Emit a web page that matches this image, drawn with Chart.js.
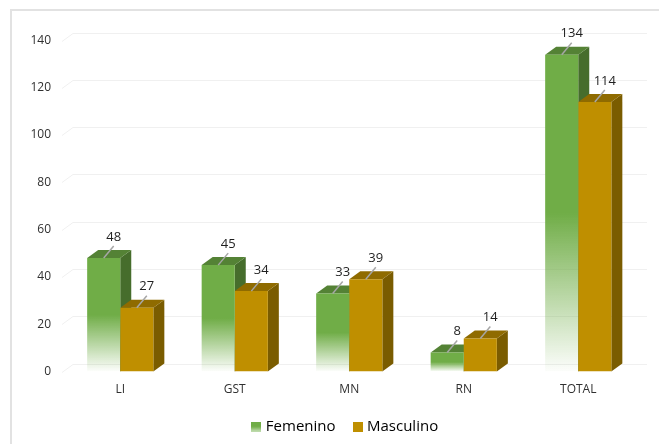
<!DOCTYPE html>
<html>
<head>
<meta charset="utf-8">
<style>
  html, body { margin: 0; padding: 0; background: #fff; }
  #wrap { position: absolute; left: 0; top: 0; width: 659px; height: 444px; overflow: hidden; }
  #frame { position: absolute; left: 10px; top: 9px; width: 660px; height: 450px; border: 2px solid #e2e2e2; }
  body { overflow: hidden; }
</style>
<script src="https://cdn.jsdelivr.net/npm/chart.js@4/dist/chart.umd.min.js"></script>
</head>
<body>
<div id="wrap">
  <div id="frame"></div>
  <canvas id="chart" width="659" height="444" style="position:absolute;left:0;top:0"></canvas>
</div>
<script>
var categories = ['LI', 'GST', 'MN', 'RN', 'TOTAL'];
var femenino = [48, 45, 33, 8, 134];
var masculino = [27, 34, 39, 14, 114];
var yTicks = [0, 20, 40, 60, 80, 100, 120, 140];

var fontName = '"Open Sans", sans-serif';
var depthX = 11, depthY = 8;

// green bars fade out in the lower half of each bar
function greenFade(ctx) {
  var chart = ctx.chart;
  var y = chart.scales.y;
  if (!y || ctx.type !== 'data') return '#70ad47';
  var top = y.getPixelForValue(ctx.raw);
  var bottom = y.getPixelForValue(0);
  var g = chart.ctx.createLinearGradient(0, top, 0, bottom);
  g.addColorStop(0, '#70ad47');
  g.addColorStop(0.5, '#70ad47');
  g.addColorStop(1, 'rgba(112,173,71,0.02)');
  return g;
}

// legend swatches as small canvases, so the text can sit close to them
function swatch(draw) {
  var cv = document.createElement('canvas');
  cv.width = 10;
  cv.height = 10;
  draw(cv.getContext('2d'));
  return cv;
}
var greenSwatch = swatch(function (c) {
  var g = c.createLinearGradient(0, 0, 0, 10);
  g.addColorStop(0, '#70ad47');
  g.addColorStop(0.5, '#70ad47');
  g.addColorStop(1, '#c5dfb5');
  c.fillStyle = g;
  c.fillRect(0, 0, 10, 10);
});
var goldSwatch = swatch(function (c) {
  c.fillStyle = '#bf8f00';
  c.fillRect(0, 0, 10, 10);
});

function poly(c, pts, fill) {
  c.fillStyle = fill;
  c.beginPath();
  c.moveTo(pts[0][0], pts[0][1]);
  for (var i = 1; i < pts.length; i++) c.lineTo(pts[i][0], pts[i][1]);
  c.closePath();
  c.fill();
}

var faces = [
  { top: '#548235', side: '#466d2c' },
  { top: '#8f6b00', side: '#7a5c00' }
];

var depthPlugin = {
  id: 'depth',
  afterLayout: function (chart) {
    // legend sits under the plot, not under the whole frame
    chart.legend.left += 23;
    chart.legend.right += 23;
    chart.legend.top += 0.5;
  },
  beforeDatasetsDraw: function (chart) {
    var c = chart.ctx, area = chart.chartArea, y = chart.scales.y;
    c.save();
    // back wall grid lines
    c.strokeStyle = '#f0f0f0';
    c.lineWidth = 1;
    yTicks.forEach(function (t) {
      var py = Math.round(y.getPixelForValue(t)) + 0.5;
      c.beginPath();
      c.moveTo(area.left - 1, py);
      c.lineTo(area.left - 1 + depthX, py - depthY);
      c.lineTo(647, py - depthY);
      c.stroke();
    });
    // side and top faces of the bars
    [0, 1].forEach(function (d) {
      chart.getDatasetMeta(d).data.forEach(function (bar) {
        var w = bar.width / 2, l = bar.x - w, r = bar.x + w, t = bar.y, b = bar.base;
        poly(c, [[r, t], [r + depthX, t - depthY], [r + depthX, b - depthY], [r, b]], faces[d].side);
        poly(c, [[l, t], [l + depthX, t - depthY], [r + depthX, t - depthY], [r, t]], faces[d].top);
      });
    });
    c.restore();
  },
  afterDatasetsDraw: function (chart) {
    var c = chart.ctx;
    c.save();
    c.font = '13px ' + fontName;
    c.textAlign = 'center';
    c.textBaseline = 'middle';
    [0, 1].forEach(function (d) {
      var values = chart.data.datasets[d].data;
      chart.getDatasetMeta(d).data.forEach(function (bar, i) {
        // leader line from the bar top up to its value
        c.strokeStyle = '#a6a6a6';
        c.lineWidth = 1.5;
        c.beginPath();
        c.moveTo(bar.x, bar.y);
        c.lineTo(bar.x + 10, bar.y - 12);
        c.stroke();
        c.fillStyle = '#1f1f1f';
        c.fillText(values[i], bar.x + 10, bar.y - 21);
      });
    });
    c.restore();
  }
};

new Chart(document.getElementById('chart'), {
  type: 'bar',
  data: {
    labels: categories,
    datasets: [
      { label: 'Femenino', data: femenino, backgroundColor: greenFade },
      { label: 'Masculino', data: masculino, backgroundColor: '#bf8f00' }
    ]
  },
  options: {
    responsive: false,
    animation: false,
    layout: { padding: { left: 11, right: 23.5, top: 40.5, bottom: 0.5 } },
    datasets: { bar: { categoryPercentage: 0.578, barPercentage: 1 } },
    scales: {
      x: {
        grid: { display: false },
        border: { display: false },
        ticks: { color: '#303030', font: { family: fontName, size: 12 }, padding: 3 },
        afterFit: function (s) { s.height = 27; }
      },
      y: {
        min: 0,
        max: 140,
        grid: { display: false },
        border: { display: false },
        afterBuildTicks: function (s) { s.ticks = yTicks.map(function (v) { return { value: v }; }); },
        ticks: { color: '#303030', font: { family: fontName, size: 12 }, padding: 4 },
        afterFit: function (s) { s.width = 52; }
      }
    },
    plugins: {
      tooltip: { enabled: false },
      legend: {
        position: 'bottom',
        labels: {
          usePointStyle: true,
          boxWidth: 4,
          padding: 20,
          color: '#1f1f1f',
          font: { family: fontName, size: 15 },
          generateLabels: function () {
            return [
              { text: 'Femenino', pointStyle: greenSwatch, datasetIndex: 0 },
              { text: 'Masculino', pointStyle: goldSwatch, datasetIndex: 1 }
            ];
          }
        }
      }
    }
  },
  plugins: [depthPlugin]
});
</script>
</body>
</html>
